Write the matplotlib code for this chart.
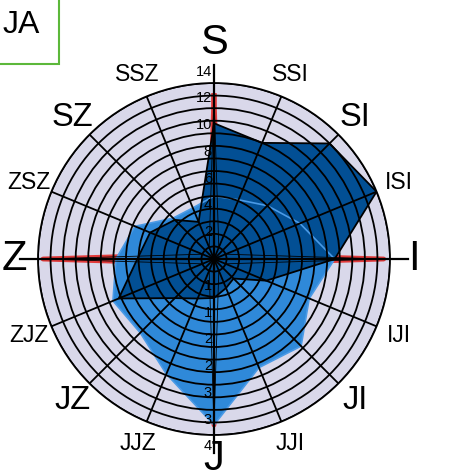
import numpy as np
import matplotlib.pyplot as plt
from matplotlib.patches import Rectangle

plt.rcParams['font.family'] = ['Liberation Sans', 'DejaVu Sans']

# irányok (óramutató szerint, S felül)
dirs = ['S', 'SSI', 'SI', 'ISI', 'I', 'IJI', 'JI', 'JJI',
        'J', 'JJZ', 'JZ', 'ZJZ', 'Z', 'ZSZ', 'SZ', 'SSZ']
major = ['S', 'I', 'J', 'Z']
mid = ['SI', 'JI', 'JZ', 'SZ']

# értékek a 0-14 skálán
dark_vals = [10.8, 10.0, 13.0, 14.0, 9.6, 4.5, 2.2, 2.5,
             3.1, 3.4, 4.4, 8.2, 6.1, 5.5, 4.4, 3.2]
light_vals = [5.0, 5.1, 6.0, 7.4, 9.6, 8.2, 9.8, 9.35,
              13.2, 9.9, 8.3, 8.7, 7.8, 6.8, 4.6, 4.4]
red_vals = [13.0, 1.0, 1.0, 1.0, 13.5, 1.0, 1.0, 1.0,
            13.2, 1.0, 1.0, 1.0, 13.6, 1.0, 1.0, 1.0]

r_max = 14
r_ticks = list(range(2, 15, 2))
scale2_max = 4   # alsó skála


def closed(v):
    return np.append(v, v[0])


fig = plt.figure(figsize=(4.55, 4.73), dpi=100)
ax = fig.add_axes([0.0835, 0.0803, 0.7736, 0.7442], projection='polar')
ax.set_theta_zero_location('N')
ax.set_theta_direction(-1)

theta = np.deg2rad(np.arange(len(dirs)) * 360 / len(dirs))
th = closed(theta)

ax.set_facecolor('#d9d8ea')
ax.fill(th, closed(red_vals), color='#e23b3b', lw=0, zorder=1)
ax.plot(th, closed(red_vals), color='#e23b3b', lw=3.5, zorder=1.05)
ax.fill(th, closed(light_vals), color='#2f89d9', lw=0, zorder=1.1)
ax.fill(th, closed(dark_vals), color='#024f94', lw=0, zorder=1.2)
ax.plot(th, closed(light_vals), color='#4a9ae6', lw=1.2, zorder=1.3)

ax.set_ylim(0, r_max)
ax.set_yticks(range(1, r_max + 1))
ax.set_yticklabels([])
ax.set_xticks(theta)
ax.set_xticklabels([])
ax.grid(True, color='black', lw=1.3)
ax.set_axisbelow(False)
ax.spines['polar'].set_color('black')
ax.spines['polar'].set_linewidth(1.3)

ax.plot(th, closed(dark_vals), color='black', lw=1.3, zorder=3)
ax.plot(th, closed(red_vals), color='black', lw=0.6, zorder=3)

# fő irányok tengelyei túlnyúlnak
for t, d in zip(theta, dirs):
    if d in major:
        ax.plot([t, t], [0, 15.4], color='black', lw=1.6, clip_on=False, zorder=3)

# irány feliratok
label_r = {'S': 17.2}
for t, d in zip(theta, dirs):
    if d in major:
        fs = 30
    elif d in mid:
        fs = 23.5
    else:
        fs = 16.5
    ax.text(t, label_r.get(d, 15.9), d, ha='center', va='center', fontsize=fs)

# sugárirányú feliratok
for v in r_ticks:
    ax.annotate(str(v), xy=(0, v * 1.065), xytext=(-1.5, 0), textcoords='offset points',
                ha='right', va='center', fontsize=10.5, annotation_clip=False)
    ax.annotate(f"{v * scale2_max / r_max:.0f}", xy=(np.pi, v * 1.065), xytext=(-1.5, 0),
                textcoords='offset points', ha='right', va='center', fontsize=10.5,
                annotation_clip=False)

fig.add_artist(Rectangle((-0.01, 0.865), 0.14, 0.15, transform=fig.transFigure,
                         fill=False, ec='#5cb83a', lw=1.5))
fig.text(0.046, 0.947, 'JA', ha='center', va='center', fontsize=23)

fig.savefig('out.png', dpi=100)
